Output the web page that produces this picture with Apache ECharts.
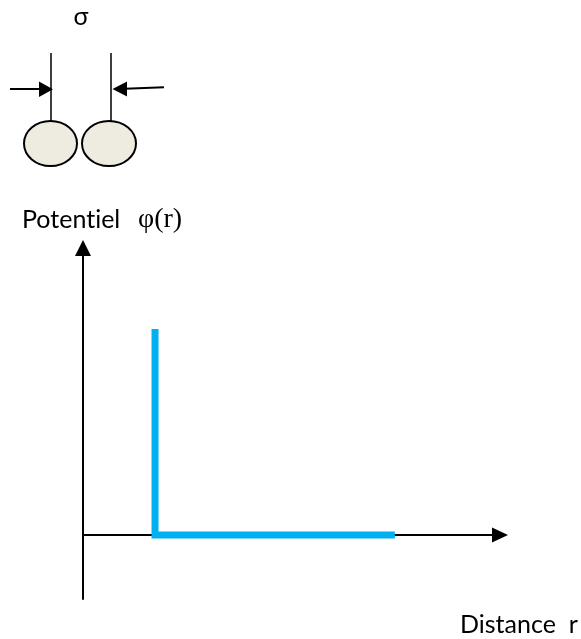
<!DOCTYPE html>
<html>
<head>
<meta charset="utf-8">
<script src="https://cdn.jsdelivr.net/npm/echarts@6/dist/echarts.min.js"></script>
<style>
  html, body { margin: 0; padding: 0; background: #ffffff; }
  #chart { width: 581px; height: 639px; }
</style>
</head>
<body>
<div id="chart"></div>
<script>
// Hard-sphere pair potential: a vertical wall at r = σ, zero for every r beyond it.
const distanceR = [1.0, 1.0, 4.33];    // r, in units of σ
const potentialPhi = [1.0, 0.0, 0.0];  // φ(r); the wall is drawn up to a finite height

// Axis extents (same units as the data)
const rRange = [0, 5.79];
const phiRange = [-0.311, 1.393];

// Texts (a zero-width non-joiner keeps Lato from fusing "ti" into a ligature)
const phiTitle = 'Potent\u200Ciel';
const phiSymbol = 'φ(r)';
const rTitle = 'Distance  r';
const sigmaLabel = 'σ';

const ink = '#000000';
const sphereFill = '#EEECE1';
const wallBlue = '#00B0F0';
const sansFont = 'Lato';
const serifFont = '"Liberation Serif", "DejaVu Serif", serif';

const chart = echarts.init(document.getElementById('chart'), null, { renderer: 'canvas' });

const seriesData = distanceR.map((r, i) => [r, potentialPhi[i]]);

const hiddenParts = {
  axisTick: { show: false },
  axisLabel: { show: false },
  splitLine: { show: false },
  splitArea: { show: false }
};

chart.setOption({
  backgroundColor: '#ffffff',
  animation: false,
  grid: { left: 83, top: 248, width: 417, height: 351, outerBoundsMode: 'none', containLabel: false },
  xAxis: Object.assign({
    type: 'value',
    min: rRange[0],
    max: rRange[1],
    axisLine: {
      show: true,
      onZero: true,
      symbol: ['none', 'triangle'],
      symbolSize: [15, 16],
      lineStyle: { color: ink, width: 2 }
    }
  }, hiddenParts),
  yAxis: Object.assign({
    type: 'value',
    min: phiRange[0],
    max: phiRange[1],
    axisLine: {
      show: true,
      onZero: true,
      symbol: ['none', 'triangle'],
      symbolSize: [16, 16],
      lineStyle: { color: ink, width: 2 }
    }
  }, hiddenParts),
  series: [{
    type: 'line',
    data: seriesData,
    showSymbol: false,
    symbol: 'none',
    z: 5,
    lineStyle: { color: wallBlue, width: 7, cap: 'butt', join: 'miter' }
  }],
  graphic: [
    // σ marker: two guide lines with inward-pointing arrows
    { type: 'line', shape: { x1: 51, y1: 53, x2: 51, y2: 121 }, style: { stroke: ink, lineWidth: 1.5 } },
    { type: 'line', shape: { x1: 111, y1: 53, x2: 111, y2: 121 }, style: { stroke: ink, lineWidth: 1.5 } },
    { type: 'line', shape: { x1: 10, y1: 89, x2: 41, y2: 89 }, style: { stroke: ink, lineWidth: 2 } },
    { type: 'polygon', shape: { points: [[39, 81.5], [53, 89.2], [39, 97]] }, style: { fill: ink } },
    { type: 'line', shape: { x1: 164, y1: 87.2, x2: 125, y2: 88.8 }, style: { stroke: ink, lineWidth: 2 } },
    { type: 'polygon', shape: { points: [[127, 81.5], [112.5, 89], [127, 96.5]] }, style: { fill: ink } },
    // the two touching spheres
    { type: 'ellipse', shape: { cx: 50.5, cy: 143.5, rx: 26.5, ry: 22.5 }, style: { fill: sphereFill, stroke: ink, lineWidth: 2 } },
    { type: 'ellipse', shape: { cx: 109, cy: 143.5, rx: 27, ry: 22.5 }, style: { fill: sphereFill, stroke: ink, lineWidth: 2 } },
    // labels
    { type: 'text', x: 81, y: 17, style: { text: sigmaLabel, fontFamily: sansFont, fontSize: 25, fill: ink, align: 'center', verticalAlign: 'middle' } },
    { type: 'text', x: 22, y: 220, style: { text: phiTitle, fontFamily: sansFont, fontSize: 25, fill: ink, align: 'left', verticalAlign: 'middle' } },
    { type: 'text', x: 138, y: 220, style: { text: phiSymbol, fontFamily: serifFont, fontSize: 28, fill: ink, align: 'left', verticalAlign: 'middle' } },
    { type: 'text', x: 460, y: 625, style: { text: rTitle, fontFamily: sansFont, fontSize: 25, fill: ink, align: 'left', verticalAlign: 'middle' } }
  ]
});
</script>
</body>
</html>
